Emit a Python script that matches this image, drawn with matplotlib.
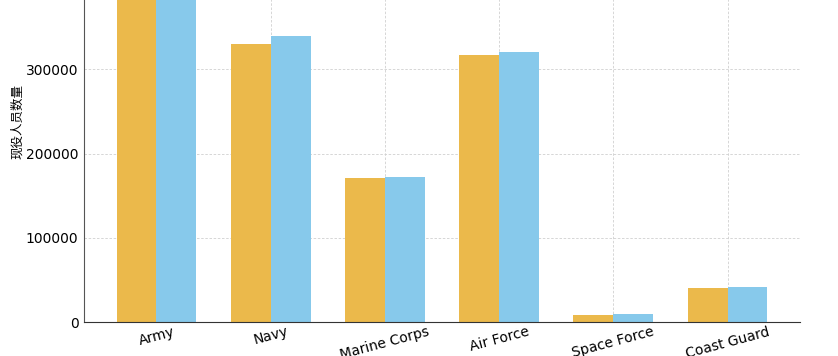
import matplotlib
matplotlib.use('Agg')
import matplotlib.pyplot as plt
import numpy as np

plt.rcParams['font.family'] = ['Noto Sans CJK SC', 'DejaVu Sans']

branches = ['Army', 'Navy', 'Marine Corps', 'Air Force', 'Space Force', 'Coast Guard']
# two years of active duty personnel
year_a = [452000, 330000, 171000, 317000, 8300, 40400]
year_b = [448000, 340000, 172300, 320700, 9500, 41600]

x = np.arange(len(branches))
w = 0.35

fig = plt.figure(figsize=(8.38, 3.56), dpi=100)
# the axes runs past the top edge of the picture, as in the reference crop
ax = fig.add_axes([0.1002, 0.0955, 0.8545, 1.124])
ax.bar(x - w / 2, year_a, w, color='#EBB94B', label='2022')
ax.bar(x + w / 2, year_b, w, color='#87C9EB', label='2023')

ax.set_ylim(0, 475000)
ax.set_yticks([0, 100000, 200000, 300000, 400000])
ax.set_xticks(x)
ax.set_xticklabels(branches, rotation=15, fontsize=10, family='DejaVu Sans')
for t in ax.get_yticklabels():
    t.set_family('DejaVu Sans')
ax.set_ylabel('现役人员数量', fontsize=9, labelpad=1)
ax.grid(True, linestyle=(0, (3, 2)), color='#d0d0d0', linewidth=0.6)
ax.set_axisbelow(True)
for s in ['top', 'right']:
    ax.spines[s].set_visible(False)
ax.spines['left'].set_color('#555555')
ax.spines['bottom'].set_color('#333333')
ax.tick_params(length=0, pad=4)
ax.tick_params(axis='x', pad=2)

fig.savefig('out.png', dpi=100)
